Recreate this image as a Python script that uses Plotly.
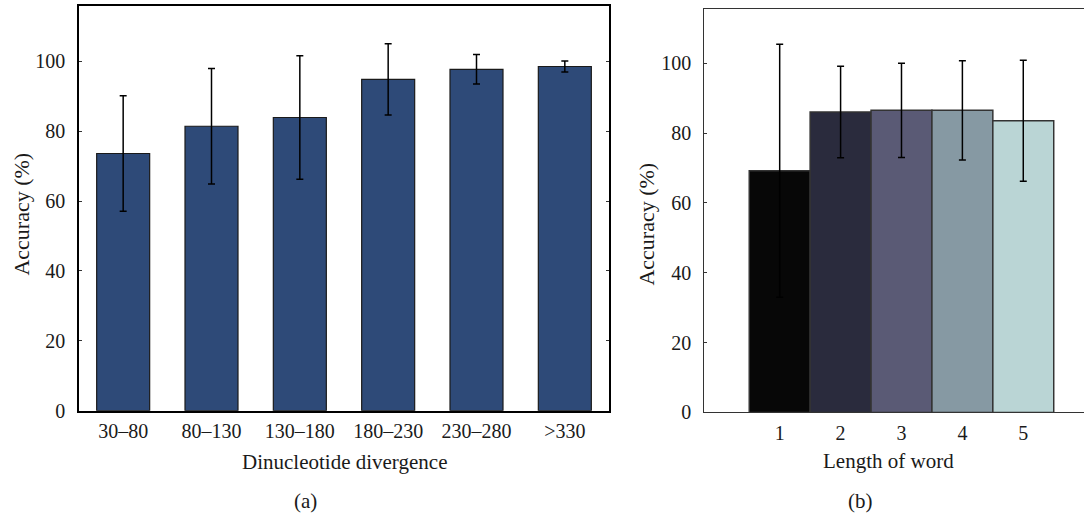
import plotly.graph_objects as go

# ---- Panel (a) data ----
div_categories = ["30–80", "80–130", "130–180", "180–230", "230–280", ">330"]
div_accuracy = [73.6, 81.4, 83.9, 94.8, 97.7, 98.5]
div_error = [16.5, 16.5, 17.7, 10.2, 4.2, 1.6]

# ---- Panel (b) data ----
word_lengths = [1, 2, 3, 4, 5]
word_accuracy = [69.2, 86.0, 86.5, 86.5, 83.5]
word_error = [36.2, 13.1, 13.5, 14.2, 17.3]
word_colors = ["#070707", "#2a2b3d", "#5a5a75", "#8699a3", "#bad5d5"]

y_ticks = [0, 20, 40, 60, 80, 100]

W, H = 1084, 514
HE = 504.0  # effective drawing height observed in the renderer
FONT = "Liberation Serif"


def fy(y_px):
    """paper fraction for a pixel row measured from the top"""
    return (HE - y_px) / HE


fig = go.Figure()

fig.add_trace(go.Bar(
    x=div_categories, y=div_accuracy,
    marker=dict(color="#2e4a78", line=dict(color="#1a1a1a", width=1.2)),
    width=0.6,
    error_y=dict(type="data", array=div_error, color="black", thickness=1.5, width=3.5),
    xaxis="x", yaxis="y", showlegend=False,
))

fig.add_trace(go.Bar(
    x=word_lengths, y=word_accuracy,
    marker=dict(color=word_colors, line=dict(color="#333333", width=1.5)),
    width=1.0,
    error_y=dict(type="data", array=word_error, color="black", thickness=1.5, width=3.5),
    xaxis="x2", yaxis="y2", showlegend=False,
))

tickfont = dict(family=FONT, size=20, color="#1a1a1a")

fig.update_layout(
    width=W, height=H, autosize=False,
    margin=dict(l=0, r=0, t=0, b=0),
    paper_bgcolor="white", plot_bgcolor="white",
    font=dict(family=FONT, size=20, color="#1a1a1a"),
    xaxis=dict(
        domain=[79 / W, 609 / W], anchor="y",
        range=[-0.5, 5.5], type="category",
        showline=True, linecolor="black", linewidth=1.5, mirror=True,
        ticks="", showgrid=False, zeroline=False,
        tickfont=tickfont, ticklabelstandoff=2,
    ),
    yaxis=dict(
        domain=[fy(411.5), fy(5.7)], anchor="x",
        range=[0, 115.9], tickvals=y_ticks,
        showline=True, linecolor="black", linewidth=1.5, mirror="ticks",
        ticks="inside", ticklen=3, tickcolor="#333",
        showgrid=False, zeroline=False,
        tickfont=tickfont, ticklabelstandoff=8,
    ),
    xaxis2=dict(
        domain=[704.3 / W, 1.0], anchor="y2",
        range=[-0.238, 5.997], tickvals=word_lengths,
        showline=True, linecolor="#333", linewidth=1.2, mirror=True,
        ticks="", showgrid=False, zeroline=False,
        tickfont=tickfont, ticklabelstandoff=2,
    ),
    yaxis2=dict(
        domain=[fy(413.3), fy(9)], anchor="x2",
        range=[0, 115.5], tickvals=y_ticks,
        showline=True, linecolor="#333", linewidth=1.2, mirror=False,
        ticks="inside", ticklen=3, tickcolor="#333",
        showgrid=False, zeroline=False,
        tickfont=tickfont, ticklabelstandoff=8,
    ),
)

ann_font = dict(family=FONT, size=21, color="#1a1a1a")
annotations = [
    dict(text="Accuracy (%)", x=22 / W, y=fy(215), textangle=-90, font=dict(family=FONT, size=22, color="#1a1a1a")),
    dict(text="Dinucleotide divergence", x=344 / W, y=fy(463), font=ann_font),
    dict(text="(a)", x=305 / W, y=fy(502), font=ann_font),
    dict(text="Accuracy (%)", x=647 / W, y=fy(225), textangle=-90, font=dict(family=FONT, size=22, color="#1a1a1a")),
    dict(text="Length of word", x=888 / W, y=fy(462), font=ann_font),
    dict(text="(b)", x=860 / W, y=fy(502), font=ann_font),
]
for a in annotations:
    fig.add_annotation(xref="paper", yref="paper", showarrow=False,
                       xanchor="center", yanchor="middle", **a)

page_css = (
    "var s=document.createElement('style');"
    "s.textContent='html,body{margin:0;padding:0;overflow:hidden;width:1084px;height:514px;}';"
    "document.head.appendChild(s);"
)

fig.write_html(
    "out.html",
    config={"responsive": False, "displayModeBar": False},
    post_script=page_css,
)
